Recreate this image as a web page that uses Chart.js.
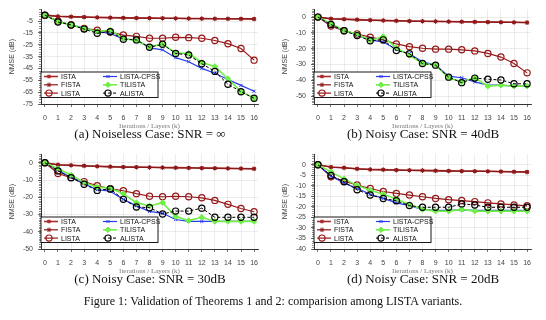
<!DOCTYPE html>
<html>
<head>
<meta charset="utf-8">
<script src="https://cdn.jsdelivr.net/npm/chart.js@4"></script>
<style>
  body { margin: 0; background: #fff; width: 546px; height: 320px; position: relative; overflow: hidden; }
  .panel { position: absolute; width: 273px; height: 130px; }
  .cap { position: absolute; font-family: "Liberation Serif", "Times New Roman", serif; font-size: 13px; color: #111;
         white-space: nowrap; transform: translateX(-50%); }
  #fig { position: absolute; left: 0; width: 546px; top: 294px; text-align: center;
         font-family: "Liberation Serif", "Times New Roman", serif; font-size: 12px; color: #111; }
</style>
</head>
<body>
<div class="panel" style="left:0;top:0"><canvas id="chartA"></canvas></div>
<div class="panel" style="left:273px;top:0"><canvas id="chartB"></canvas></div>
<div class="panel" style="left:0;top:145px"><canvas id="chartC"></canvas></div>
<div class="panel" style="left:273px;top:145px"><canvas id="chartD"></canvas></div>
<div class="cap" style="left:150px;top:126px">(a) Noiseless Case: SNR = ∞</div>
<div class="cap" style="left:423px;top:126px">(b) Noisy Case: SNR = 40dB</div>
<div class="cap" style="left:150px;top:271px">(c) Noisy Case: SNR = 30dB</div>
<div class="cap" style="left:423px;top:271px">(d) Noisy Case: SNR = 20dB</div>
<div id="fig">Figure 1: Validation of Theorems 1 and 2: comparision among LISTA variants.</div>
<script>
const iterations = [0, 1, 2, 3, 4, 5, 6, 7, 8, 9, 10, 11, 12, 13, 14, 15, 16];
const seriesNames = ['ISTA', 'FISTA', 'LISTA', 'LISTA-CPSS', 'TILISTA', 'ALISTA'];

// (a) noiseless
const istaA = [0, -1.0, -1.3, -1.6, -1.9, -2.1, -2.3, -2.4, -2.5, -2.6, -2.7, -2.8, -2.9, -3.0, -3.05, -3.1, -3.2];
const fistaA = [0, -1.1, -1.4, -1.7, -2.0, -2.2, -2.4, -2.5, -2.6, -2.7, -2.8, -2.9, -3.0, -3.05, -3.1, -3.2, -3.3];
const listaA = [0, -5, -8.3, -11.3, -12.7, -14.3, -16.8, -17.9, -19.5, -19.5, -18.7, -19, -19.5, -21.4, -24.1, -28.2, -38];
const cpssA = [0, -5.2, -8.3, -10.8, -14, -15.4, -20.3, -20.8, -27.7, -29.3, -35.9, -39.3, -44.9, -49, -54.3, -59.3, -64.2];
const tilistaA = [0, -5.5, -8.3, -11.3, -13.8, -12.7, -19.8, -21.4, -26.9, -24.3, -32, -32.3, -40, -43.3, -53.7, -64.6, -70];
const alistaA = [0, -5.8, -8.3, -11.8, -15.3, -14, -20.3, -20.9, -27.1, -24.6, -32.3, -33.7, -41, -47.5, -58.3, -64.6, -70.2];
const yTicksA = [-5, -15, -25, -35, -45, -55, -65, -75];

// (b) SNR = 40dB
const istaB = [0, -1.0, -1.3, -1.6, -1.9, -2.1, -2.3, -2.5, -2.6, -2.7, -2.8, -2.9, -3.0, -3.1, -3.2, -3.3, -3.4];
const fistaB = [0, -1.1, -1.4, -1.7, -2.0, -2.2, -2.4, -2.6, -2.7, -2.8, -2.9, -3.0, -3.1, -3.2, -3.3, -3.4, -3.5];
const listaB = [0, -5.7, -8.6, -10.7, -12.7, -14.4, -17, -18.7, -19.7, -20.3, -20.3, -20.7, -21.4, -23, -25.3, -29.4, -35.3];
const cpssB = [0, -4.7, -8.6, -11.3, -14.4, -15.8, -20.5, -23.2, -28.3, -30.4, -37.4, -38.4, -41, -43.1, -43.1, -43.7, -43.7];
const tilistaB = [0, -4.1, -8.6, -10.7, -14.8, -12.3, -19.5, -24.2, -29.2, -30.4, -38.4, -41, -38.4, -43.7, -43.1, -43.7, -43.7];
const alistaB = [0, -4.7, -8.6, -11.7, -15, -14.4, -21.1, -23.2, -29.4, -30.4, -38, -41.5, -38.6, -39.3, -39.8, -42.2, -42.2];
const yTicksB = [0, -5, -10, -15, -20, -25, -30, -35, -40, -45, -50, -55];

// (c) SNR = 30dB
const istaC = [0, -1.1, -1.4, -1.7, -2.0, -2.2, -2.4, -2.5, -2.6, -2.7, -2.8, -2.9, -3.0, -3.1, -3.2, -3.3, -3.4];
const fistaC = [0, -1.2, -1.5, -1.8, -2.1, -2.3, -2.5, -2.6, -2.7, -2.8, -2.9, -3.0, -3.1, -3.2, -3.3, -3.4, -3.5];
const listaC = [0, -6.2, -8.6, -10.9, -13.3, -15, -16.2, -17.9, -19.4, -19.7, -19.4, -19.7, -20.3, -21.8, -24.1, -26.5, -28.4];
const cpssC = [0, -4.3, -8.5, -12.2, -15.6, -16.5, -21.2, -25, -28.2, -29.3, -32.9, -34, -34, -34, -34, -34, -34];
const tilistaC = [0, -3.4, -7.1, -11.5, -14.1, -14.7, -18, -23.1, -25, -23.1, -31.2, -33.5, -31.6, -34, -34, -34, -34];
const alistaC = [0, -4.7, -8.6, -12.4, -16, -15.2, -21.2, -25.6, -26, -29.7, -28, -28, -26.3, -31.6, -31.6, -31.6, -31.6];
const yTicksC = [0, -5, -10, -15, -20, -25, -30, -35, -40, -45, -50];

// (d) SNR = 20dB
const istaD = [0, -1.1, -1.4, -1.9, -2.2, -2.3, -2.5, -2.6, -2.7, -2.8, -2.9, -3.0, -3.05, -3.1, -3.2, -3.3, -3.4];
const fistaD = [0, -1.2, -1.5, -2.0, -2.3, -2.4, -2.6, -2.7, -2.8, -2.9, -3.0, -3.1, -3.15, -3.2, -3.3, -3.4, -3.5];
const listaD = [0, -5.7, -7.8, -9.6, -11.3, -12.7, -13.6, -14.4, -15.2, -16, -16.6, -17, -17.5, -18.1, -18.6, -19.1, -19.5];
const cpssD = [0, -5.4, -8.8, -11.2, -14, -16, -18.1, -19.4, -21.2, -21.7, -21.7, -21.4, -21.7, -21.7, -21.7, -21.7, -21.7];
const tilistaD = [0, -3.4, -6.7, -9.8, -12.1, -14, -16.3, -18.9, -21.2, -22, -22, -21.2, -22, -22, -22, -22, -22];
const alistaD = [0, -5.1, -8.1, -11.9, -14.4, -16, -17.1, -19.4, -20.2, -20.2, -20.2, -18.6, -19.1, -20.2, -20.2, -20.2, -20.2];
const yTicksD = [0, -5, -10, -15, -20, -25, -30, -35, -40];

const tickFont = { family: 'Liberation Sans, Arial, sans-serif', size: 7 };

// legend box drawn inside the plot, bottom-left, two columns
const boxLegend = {
    id: 'boxLegend',
    afterDraw(chart) {
        const ctx = chart.ctx;
        const area = chart.chartArea;
        const x0 = area.left, w = 117, h = 25.5;
        const y0 = area.bottom - 6.5 - h;
        ctx.save();
        ctx.fillStyle = '#fff';
        ctx.fillRect(x0, y0, w, h);
        ctx.strokeStyle = '#000';
        ctx.lineWidth = 0.9;
        ctx.strokeRect(x0, y0, w, h);
        ctx.font = '7px "Liberation Sans", Arial, sans-serif';
        ctx.textBaseline = 'middle';
        chart.data.datasets.forEach((ds, i) => {
            const col = i < 3 ? 0 : 1;
            const row = i % 3;
            const lx = x0 + 3 + col * 59;
            const ly = y0 + 4.5 + row * 8.3;
            ctx.strokeStyle = ds.borderColor;
            ctx.lineWidth = ds.borderWidth;
            ctx.setLineDash(ds.borderDash || []);
            ctx.beginPath();
            ctx.moveTo(lx, ly);
            ctx.lineTo(lx + 14, ly);
            ctx.stroke();
            ctx.setLineDash([]);
            ctx.strokeStyle = ds.borderColor;
            ctx.fillStyle = ds.pointBackgroundColor;
            ctx.lineWidth = ds.pointBorderWidth;
            if (Chart.helpers && Chart.helpers.drawPoint) {
                Chart.helpers.drawPoint(ctx, { pointStyle: ds.pointStyle, radius: ds.pointRadius, borderWidth: ds.pointBorderWidth, rotation: 0 }, lx + 5, ly);
            }
            ctx.fillStyle = '#111';
            ctx.fillText(ds.label, lx + 17, ly + 0.5);
        });
        ctx.restore();
    }
};

// minor ticks on the y axis
const minorTicks = {
    id: 'minorTicks',
    afterDraw(chart, args, opts) {
        const y = chart.scales.y;
        const ctx = chart.ctx;
        ctx.save();
        ctx.strokeStyle = '#444';
        ctx.lineWidth = 0.6;
        for (let v = y.min; v <= y.max; v += opts.step) {
            const py = Math.round(y.getPixelForValue(v)) + 0.5;
            ctx.beginPath();
            ctx.moveTo(chart.chartArea.left - 2, py);
            ctx.lineTo(chart.chartArea.left, py);
            ctx.stroke();
        }
        ctx.restore();
    }
};

function makeDatasets(ista, fista, lista, cpss, tilista, alista) {
    return [
        { label: seriesNames[0], data: ista, borderColor: 'rgb(170,45,45)', borderWidth: 1.6, pointStyle: 'rect',
          pointRadius: 1.8, pointBorderWidth: 1, pointBackgroundColor: 'rgb(170,45,45)', order: 5 },
        { label: seriesNames[1], data: fista, borderColor: 'rgb(140,25,25)', borderWidth: 1.2, pointStyle: 'star',
          pointRadius: 2.3, pointBorderWidth: 1, pointBackgroundColor: 'rgb(140,25,25)', order: 4 },
        { label: seriesNames[2], data: lista, borderColor: 'rgb(150,25,25)', borderWidth: 1.2, pointStyle: 'circle',
          pointRadius: 3.1, pointBorderWidth: 1.2, pointBackgroundColor: 'rgba(255,255,255,0)', order: 3 },
        { label: seriesNames[3], data: cpss, borderColor: 'rgb(40,60,235)', borderWidth: 1.2, pointStyle: 'crossRot',
          pointRadius: 2.2, pointBorderWidth: 1, pointBackgroundColor: 'rgb(40,60,235)', order: 2 },
        { label: seriesNames[4], data: tilista, borderColor: 'rgb(110,240,70)', borderWidth: 1.6, pointStyle: 'rectRot',
          pointRadius: 2.8, pointBorderWidth: 1, pointBackgroundColor: 'rgb(110,240,70)', order: 1 },
        { label: seriesNames[5], data: alista, borderColor: 'rgb(0,0,0)', borderWidth: 1, borderDash: [3, 2], pointStyle: 'circle',
          pointRadius: 3.1, pointBorderWidth: 1.2, pointBackgroundColor: 'rgba(255,255,255,0)', order: 0 }
    ];
}

function makeChart(id, datasets, yMin, yTicks, minorStep) {
    return new Chart(document.getElementById(id), {
        type: 'line',
        data: { labels: iterations, datasets: datasets.map(d => ({ ...d, data: d.data.map((v, i) => ({ x: iterations[i], y: v })) })) },
        options: {
            responsive: false,
            animation: false,
            layout: { padding: { left: 0, right: 15, top: 7, bottom: 0 } },
            elements: { line: { tension: 0 }, point: { hoverRadius: 3 } },
            plugins: {
                legend: { display: false },
                tooltip: { enabled: false },
                minorTicks: { step: minorStep }
            },
            scales: {
                x: {
                    type: 'linear', min: -0.3, max: 16.3,
                    afterBuildTicks: s => { s.ticks = iterations.map(v => ({ value: v })); },
                    afterFit: s => { s.height = 26; },
                    grid: { color: 'rgba(0,0,0,0.1)', tickLength: 3, tickColor: '#333', lineWidth: 0.7 },
                    border: { color: '#333', width: 1 },
                    ticks: { font: tickFont, color: '#444', padding: 7, maxRotation: 0 },
                    title: { display: true, text: 'Iterations / Layers (k)', color: '#777',
                             font: { family: 'Liberation Serif, serif', size: 7 }, padding: { top: 1, bottom: 0 } }
                },
                y: {
                    min: yMin, max: 5,
                    afterBuildTicks: s => { s.ticks = yTicks.map(v => ({ value: v })); },
                    afterFit: s => { s.width = 41; },
                    grid: { color: 'rgba(0,0,0,0.1)', tickLength: 3, tickColor: '#333', lineWidth: 0.7 },
                    border: { color: '#333', width: 1 },
                    ticks: { font: tickFont, color: '#444', padding: 5 },
                    title: { display: true, text: 'NMSE (dB)', color: '#444', font: tickFont, padding: { top: 8, bottom: 2 } }
                }
            }
        },
        plugins: [minorTicks, boxLegend]
    });
}

function sizeCanvas(id) {
    const c = document.getElementById(id);
    c.width = 273; c.height = 130;
    c.style.width = '273px'; c.style.height = '130px';
}
['chartA', 'chartB', 'chartC', 'chartD'].forEach(sizeCanvas);

makeChart('chartA', makeDatasets(istaA, fistaA, listaA, cpssA, tilistaA, alistaA), -75, yTicksA, 2);
makeChart('chartB', makeDatasets(istaB, fistaB, listaB, cpssB, tilistaB, alistaB), -55, yTicksB, 1);
makeChart('chartC', makeDatasets(istaC, fistaC, listaC, cpssC, tilistaC, alistaC), -50, yTicksC, 1);
makeChart('chartD', makeDatasets(istaD, fistaD, listaD, cpssD, tilistaD, alistaD), -40, yTicksD, 1);
</script>
</body>
</html>
